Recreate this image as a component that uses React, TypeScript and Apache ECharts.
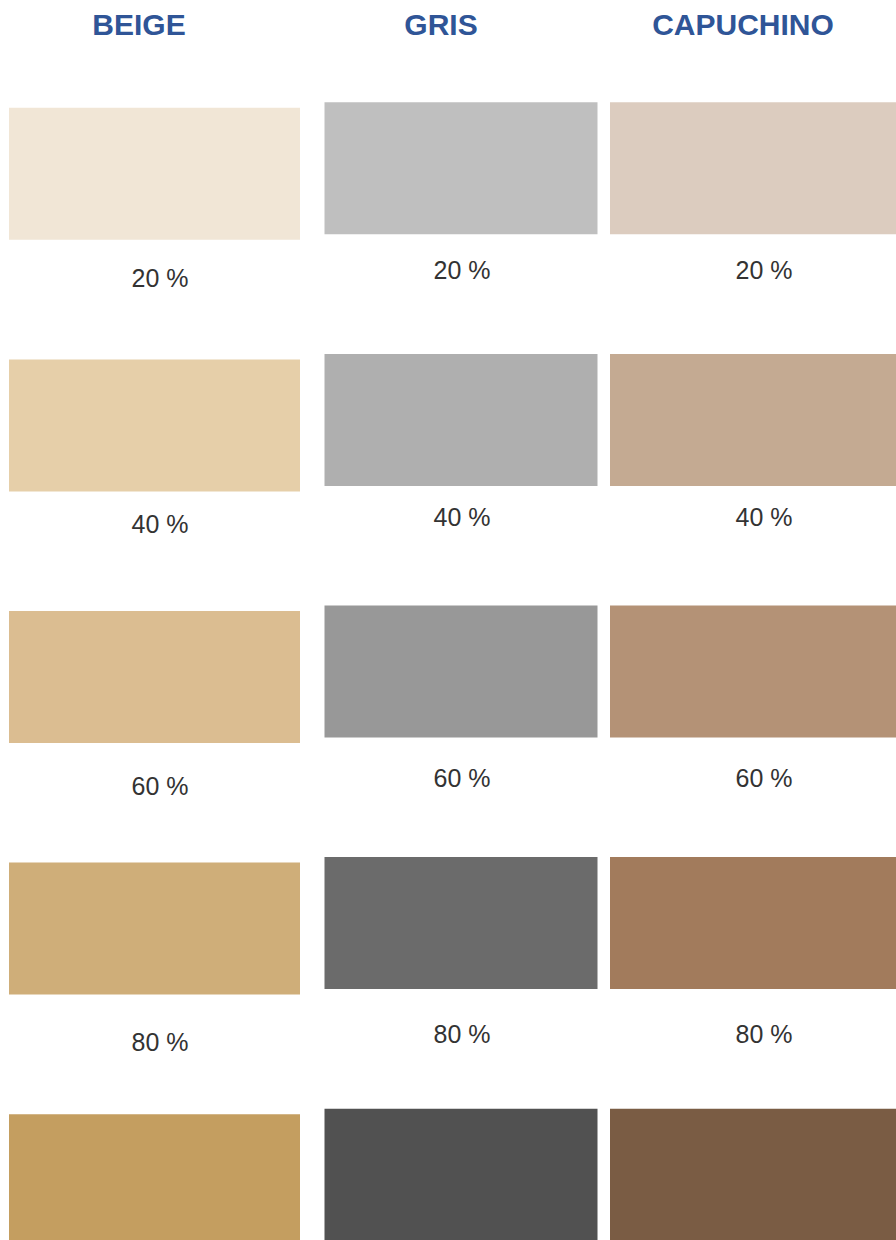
import React, { useEffect, useRef } from "react";
import * as echarts from "echarts";

const columns = ["BEIGE", "GRIS", "CAPUCHINO"];
const levels = ["20 %", "40 %", "60 %", "80 %", "100 %"];
const beigeColors = ["#F1E6D6", "#E6CFA9", "#DBBD91", "#CFAE79", "#C49E60"];
const grisColors = ["#BFBFBF", "#AFAFAF", "#989898", "#6B6B6B", "#515151"];
const capuchinoColors = ["#DCCCBF", "#C4AA92", "#B49276", "#A27B5C", "#7A5C44"];

const palette = [beigeColors, grisColors, capuchinoColors];

// layout constants (not data)
const W = 896;
const H = 1240;
const colPitch = 302;
const rowPitch = 251.6;
const xMin = -156 / colPitch;
const xMax = xMin + W / colPitch;
const yMin = -170.8 / rowPitch;
const yMax = yMin + H / rowPitch;
const colDx = [-1.5, 3, -5];
const colW = [291, 273, 290];
const colDy = [3, -2.5, -2.5];
const swatchH = 132;
const labelColAdj = [5, -2.5, -2.5];
const labelRowBase = [102, 97, 106.7, 111, 111];
const headerY = 24;
const headerDx = -17;

export default function App() {
  const ref = useRef<HTMLDivElement>(null);

  useEffect(() => {
    if (!ref.current) return;
    const chart = echarts.init(ref.current, undefined, { renderer: "svg" });

    const data: any[] = [];
    columns.forEach((_c, ci) => {
      levels.forEach((_l, ri) => {
        data.push({ value: [ci, ri] });
      });
    });

    chart.setOption({
      animation: false,
      backgroundColor: "#ffffff",
      grid: { left: 0, top: 0, right: 0, bottom: 0, containLabel: false },
      xAxis: { type: "value", min: xMin, max: xMax, show: false },
      yAxis: { type: "value", min: yMin, max: yMax, inverse: true, show: false },
      series: [
        {
          type: "custom",
          clip: false,
          data,
          renderItem: (_params: any, api: any) => {
            const ci = api.value(0) as number;
            const ri = api.value(1) as number;
            const center = api.coord([ci, ri]);
            const cx = center[0];
            const cy = center[1];
            const sx = cx + colDx[ci];
            const sy = cy + colDy[ci];
            const w = colW[ci];
            const children: any[] = [
              {
                type: "rect",
                shape: { x: sx - w / 2, y: sy - swatchH / 2, width: w, height: swatchH },
                style: { fill: palette[ci][ri] },
              },
            ];
            const ly = cy + labelRowBase[ri] + labelColAdj[ci];
            if (ly < H - 20) {
              children.push({
                type: "text",
                style: {
                  text: levels[ri],
                  x: cx + 4,
                  y: ly,
                  align: "center",
                  verticalAlign: "middle",
                  fill: "#333333",
                  font: "25px 'Liberation Sans', Arial, sans-serif",
                },
              });
            }
            if (ri === 0) {
              children.push({
                type: "text",
                style: {
                  text: columns[ci],
                  x: cx + headerDx,
                  y: headerY,
                  align: "center",
                  verticalAlign: "middle",
                  fill: "#2F5597",
                  font: "bold 30px 'Liberation Sans', Arial, sans-serif",
                },
              });
            }
            return { type: "group", children };
          },
        },
      ],
    });

    return () => chart.dispose();
  }, []);

  return (
    <div
      ref={ref}
      style={{ position: "absolute", left: 0, top: 0, width: W, height: H }}
    />
  );
}
